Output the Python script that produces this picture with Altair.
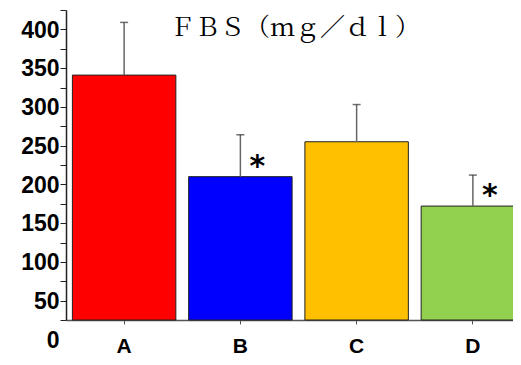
import altair as alt
import pandas as pd

categories = ["A", "B", "C", "D"]
means = [316, 185, 230, 147]
uppers = [384, 239, 278, 187]
marks = ["", "*", "", "*"]
colors = ["#FF0000", "#0000FF", "#FFC000", "#92D050"]
title_text = "ＦＢＳ（ｍｇ／ｄｌ）"
y_ticks = list(range(0, 401, 25))

df = pd.DataFrame({"cat": categories, "mean": means, "upper": uppers, "sig": marks})

label_font = "Liberation Sans Narrow, Liberation Sans"

xscale = alt.Scale(domain=categories, paddingInner=0.11, paddingOuter=0.055)
x_axis = alt.Axis(
    title=None, labelAngle=0, labelFont=label_font, labelFontSize=21,
    labelFontWeight="bold", labelColor="black", tickSize=4, tickColor="#555",
    labelPadding=11, domainColor="#555", domainWidth=1.5,
)
x = alt.X("cat:N", scale=xscale, axis=x_axis)
x_plain = alt.X("cat:N", scale=xscale, axis=None)
yscale = alt.Scale(domain=[0, 400], nice=False, zero=True)

bars = alt.Chart(df).mark_bar(stroke="#222", strokeWidth=1).encode(
    x=x,
    y=alt.Y(
        "mean:Q", scale=yscale,
        axis=alt.Axis(
            title=None, values=y_ticks, grid=False,
            labelExpr="datum.value % 50 == 0 ? datum.label : ''",
            labelOffset=20, labelOverlap=False, tickSize=6, labelPadding=1,
            labelFont=label_font, labelFontSize=23, labelFontWeight="bold",
            labelColor="black", tickColor="#222", domainColor="#222", domainWidth=1.5,
        ),
    ),
    color=alt.Color("cat:N", scale=alt.Scale(domain=categories, range=colors), legend=None),
)

err = alt.Chart(df).mark_rule(color="#666", strokeWidth=1.5).encode(
    x=x_plain, y=alt.Y("mean:Q", scale=yscale, axis=None), y2="upper:Q"
)
cap = alt.Chart(df).mark_tick(color="#333", size=8, thickness=1.5).encode(
    x=x_plain, y=alt.Y("upper:Q", scale=yscale, axis=None)
)
star = alt.Chart(df).mark_text(
    font="DejaVu Sans", fontWeight="bold", fontSize=30, align="center",
    baseline="alphabetic", dx=17, dy=-1, color="black",
).encode(x=x_plain, y=alt.Y("mean:Q", scale=yscale, axis=None), text="sig:N")

title = alt.Chart(pd.DataFrame({"t": [title_text]})).mark_text(
    font="Noto Serif CJK JP, Noto Sans CJK JP", fontSize=25, align="center",
    baseline="alphabetic", color="black",
).encode(x=alt.value(229), y=alt.value(26), text="t:N")

chart = alt.layer(bars, err, cap, star, title).resolve_axis(
    x="independent", y="independent"
).properties(
    width=465, height=310,
    padding={"left": 58, "top": 2, "right": -18, "bottom": 37},
    autosize=alt.AutoSizeParams(type="none"),
).configure_view(stroke=None)

chart.save("out.html", embed_options={"renderer": "svg", "actions": False})
